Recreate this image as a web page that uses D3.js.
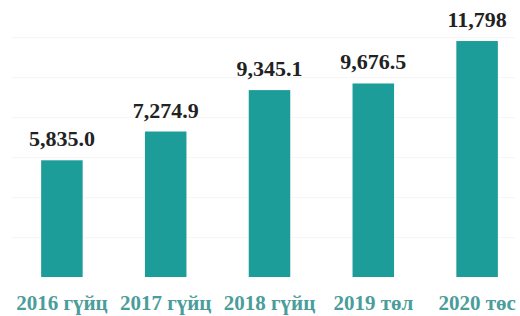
<!DOCTYPE html>
<html>
<head>
<meta charset="utf-8">
<script src="https://cdn.jsdelivr.net/npm/d3@7"></script>
<style>
html,body{margin:0;padding:0;background:#fff;}
svg{display:block;}
</style>
</head>
<body>
<svg id="chart" width="520" height="316"></svg>
<script>
const categories = ["2016 гүйц", "2017 гүйц", "2018 гүйц", "2019 төл", "2020 төс"];
const values = [5835.0, 7274.9, 9345.1, 9676.5, 11798];
const valueLabels = ["5,835.0", "7,274.9", "9,345.1", "9,676.5", "11,798"];
const gridTicks = [2000, 4000, 6000, 8000, 10000, 12000];

const svg = d3.select("#chart");
const x = d3.scaleBand().domain(categories).range([10, 529]).paddingInner(0.6).paddingOuter(0.3);
const y = d3.scaleLinear().domain([0, 12000]).range([277, 37]);

svg.append("g").selectAll("line").data(gridTicks).join("line")
  .attr("x1", 12).attr("x2", 515)
  .attr("y1", d => y(d) + 0.5).attr("y2", d => y(d) + 0.5)
  .attr("stroke", "#f6f6f6").attr("stroke-width", 1);

svg.append("g").selectAll("rect").data(values).join("rect")
  .attr("x", (d, i) => x(categories[i]))
  .attr("width", x.bandwidth())
  .attr("y", d => y(d))
  .attr("height", d => y(0) - y(d))
  .attr("fill", "#1c9d99");

svg.append("g").selectAll("text").data(values).join("text")
  .attr("x", (d, i) => x(categories[i]) + x.bandwidth() / 2)
  .attr("y", d => y(d) - 14)
  .attr("text-anchor", "middle")
  .attr("font-family", "'Liberation Serif', 'DejaVu Serif', serif")
  .attr("font-weight", "bold")
  .attr("font-size", 22)
  .attr("fill", "#222")
  .text((d, i) => valueLabels[i]);

const xAxis = d3.axisBottom(x).tickSize(0).tickPadding(0);
const gx = svg.append("g").attr("transform", "translate(0,310)").call(xAxis);
gx.select(".domain").remove();
gx.selectAll("text")
  .attr("y", 0)
  .attr("dy", "0")
  .attr("font-family", "'Liberation Serif', 'DejaVu Serif', serif")
  .attr("font-weight", "bold")
  .attr("font-size", 21)
  .attr("fill", "#4a9d9a");
</script>
</body>
</html>
